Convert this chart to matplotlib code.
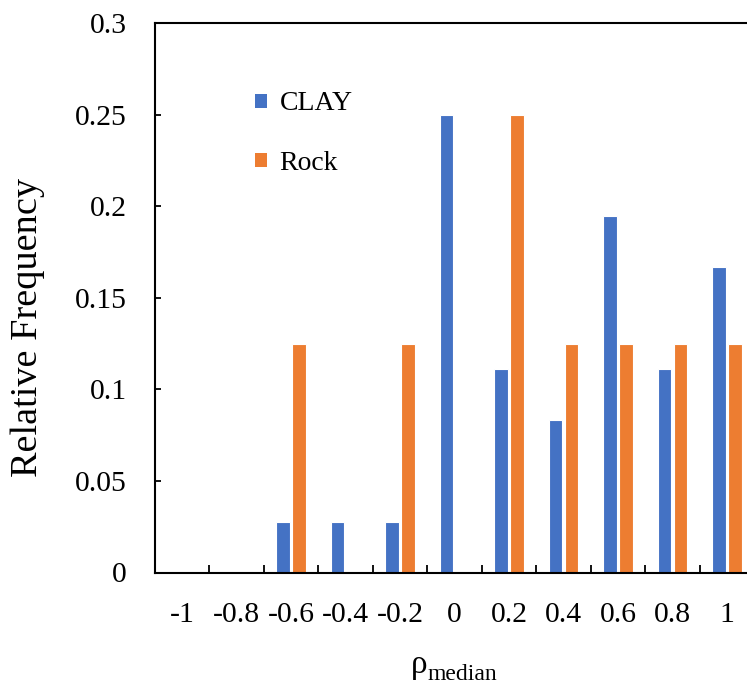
import matplotlib
matplotlib.use("Agg")
import matplotlib.pyplot as plt
from matplotlib.patches import Patch
import numpy as np

plt.rcParams['font.family'] = ['Liberation Serif', 'DejaVu Serif']

categories = ['-1', '-0.8', '-0.6', '-0.4', '-0.2', '0', '0.2', '0.4', '0.6', '0.8', '1']
clay = [0, 0, 1/36, 1/36, 1/36, 9/36, 4/36, 3/36, 7/36, 4/36, 6/36]
rock = [0, 0, 0.125, 0, 0.125, 0, 0.25, 0.125, 0.125, 0.125, 0.125]
y_ticks = [0, 0.05, 0.1, 0.15, 0.2, 0.25, 0.3]
y_tick_labels = ['0', '0.05', '0.1', '0.15', '0.2', '0.25', '0.3']

blue = '#4472C4'
orange = '#ED7D31'

W, H = 747, 686
fig = plt.figure(figsize=(W / 100, H / 100), dpi=100)
ax = fig.add_axes([154.75 / W, (H - 572.5) / H, 599.5 / W, 549.5 / H])

x = np.arange(len(categories))
bw = 0.245
ax.bar(x - 0.147, clay, width=bw, color=blue, edgecolor='white', linewidth=0.8, label='CLAY')
ax.bar(x + 0.147, rock, width=bw, color=orange, edgecolor='white', linewidth=0.8, label='Rock')

ax.set_xlim(-0.5, len(categories) - 0.5)
ax.set_ylim(0, 0.3)

tick_fs = 21.3
ax.set_xticks(x)
ax.set_xticklabels(categories, fontsize=tick_fs)
ax.set_xticks(np.arange(0.5, len(categories) - 0.5, 1), minor=True)
ax.tick_params(axis='x', which='major', length=0, pad=21.5)
ax.tick_params(axis='x', which='minor', direction='in', length=6, width=1.3, color='black')

ax.set_yticks(y_ticks)
ax.set_yticklabels(y_tick_labels, fontsize=tick_fs)
ax.tick_params(axis='y', direction='in', length=4, width=1.3, pad=20)

for s in ax.spines.values():
    s.set_linewidth(1.5)
    s.set_color('black')

# axis titles
fig.text(28 / W, 1 - 328 / H, 'Relative Frequency', rotation=90,
         ha='center', va='center', fontsize=27.5)
fig.text(411 / W, 1 - 673 / H, 'ρ', ha='left', va='baseline', fontsize=24)
fig.text(428 / W, 1 - 680 / H, 'median', ha='left', va='baseline', fontsize=17)

handles = [Patch(facecolor=blue, label='CLAY'), Patch(facecolor=orange, label='Rock')]
fig.legend(handles=handles, loc='upper left', bbox_to_anchor=(236 / W, 1 - 72 / H),
           frameon=False, fontsize=20, handlelength=0.4, handleheight=0.4,
           handletextpad=0.47, labelspacing=1.25, borderpad=0.2)

fig.savefig('out.png', dpi=100)
